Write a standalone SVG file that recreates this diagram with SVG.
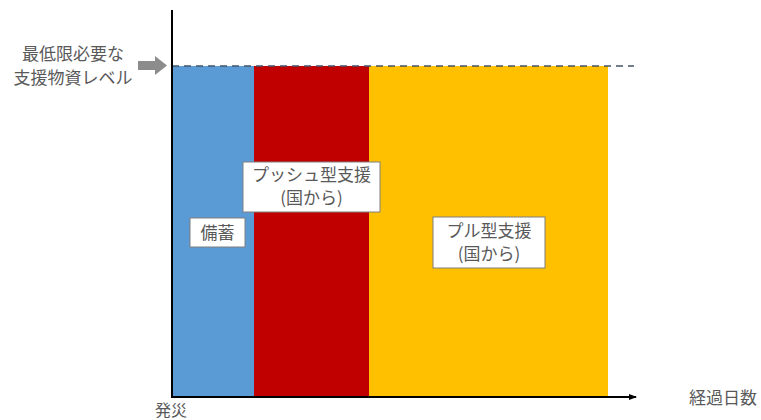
<svg xmlns="http://www.w3.org/2000/svg" width="761" height="420" viewBox="0 0 761 420">
<style>
text{font-family:"Noto Sans CJK JP","Noto Sans CJK SC",sans-serif;fill:#595959;font-size:17px}
.lbl{fill:#fff;stroke:#7f7f7f;stroke-width:1}
.ax{stroke:#000;stroke-width:2;fill:none}
</style>
<defs>
<marker id="ah" markerWidth="8" markerHeight="8" refX="7" refY="4" orient="auto" markerUnits="userSpaceOnUse">
<path d="M0,1 L8,4 L0,7 Z" fill="#000"/>
</marker>
</defs>
<rect width="761" height="420" fill="#fff"/>
<g id="bars">
<rect x="172" y="66" width="82" height="331" fill="#5B9BD5"/>
<rect x="254" y="66" width="115" height="331" fill="#C00000"/>
<rect x="369" y="66" width="239" height="331" fill="#FFC000"/>
</g>
<g id="bichiku">
<rect class="lbl" x="190" y="218" width="55" height="29"/>
<text x="217.5" y="239" text-anchor="middle">備蓄</text>
</g>
<g id="push">
<rect class="lbl" x="243" y="162" width="137" height="50"/>
<text x="311.5" y="181" text-anchor="middle">プッシュ型支援</text>
<text x="311.5" y="204" text-anchor="middle">(国から)</text>
</g>
<g id="pull">
<rect class="lbl" x="433" y="217" width="112" height="51"/>
<text x="489" y="237" text-anchor="middle">プル型支援</text>
<text x="489" y="260" text-anchor="middle">(国から)</text>
</g>
<g id="level">
<text x="73" y="60" text-anchor="middle">最低限必要な</text>
<text x="73" y="84" text-anchor="middle">支援物資レベル</text>
<path d="M138,61 H155 V56 L167,65.5 L155,75 V70 H138 Z" fill="#8c8c8c"/>
</g>
<g id="connectors">
<line x1="172" y1="66" x2="634" y2="66" stroke="#44546A" stroke-width="1.5" stroke-dasharray="7,5"/>
<line class="ax" x1="172" y1="10" x2="172" y2="397"/>
<line class="ax" x1="171" y1="397" x2="636" y2="397" marker-end="url(#ah)"/>
</g>
<text x="171" y="416" text-anchor="middle" style="font-size:16px">発災</text>
<text x="723" y="404" text-anchor="middle">経過日数</text>
</svg>
